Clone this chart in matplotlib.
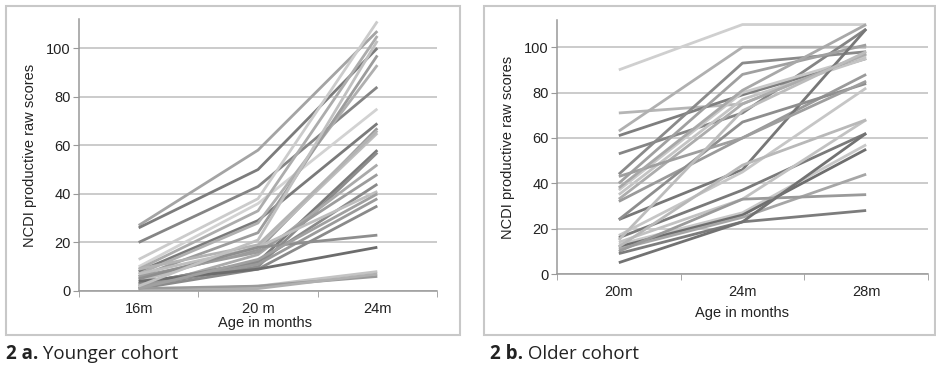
import matplotlib.pyplot as plt
from matplotlib.patches import Rectangle

# younger cohort: scores at 16m, 20m, 24m
young_ages = ['16m', '20 m', '24m']
young_scores = [
    [27, 58, 107], [26, 50, 100], [20, 43, 84], [13, 38, 111], [10, 36, 75],
    [9, 33, 105], [8, 29, 69], [7, 28, 93], [6, 24, 97], [5, 17, 67],
    [4, 18, 65], [9, 19, 66], [3, 12, 58], [2, 10, 57], [1, 15, 52],
    [6, 16, 48], [3, 12, 44], [7, 18, 41], [2, 11, 38], [1, 9, 35],
    [5, 18, 23], [4, 9, 18], [0, 2, 8], [1, 2, 6], [0, 1, 7],
    [1, 13, 40], [2, 21, 103],
]
young_shades = [
    '#a4a4a4', '#7c7c7c', '#858585', '#cbcbcb', '#d2d2d2',
    '#acacac', '#7a7a7a', '#afafaf', '#9c9c9c', '#9a9a9a',
    '#bdbdbd', '#b3b3b3', '#7a7a7a', '#8c8c8c', '#aaaaaa',
    '#9c9c9c', '#8a8a8a', '#bebebe', '#9a9a9a', '#8a8a8a',
    '#8e8e8e', '#6c6c6c', '#c4c4c4', '#9a9a9a', '#b0b0b0',
    '#a0a0a0', '#c0c0c0',
]

# older cohort: scores at 20m, 24m, 28m
old_ages = ['20m', '24m', '28m']
old_scores = [
    [90, 110, 110], [71, 75, 97], [63, 100, 100], [61, 79, 95], [53, 71, 108],
    [44, 93, 98], [40, 88, 101], [37, 80, 96], [35, 77, 95], [33, 75, 97],
    [32, 60, 88], [24, 46, 108], [24, 67, 84], [17, 45, 82], [16, 37, 62],
    [14, 33, 68], [13, 27, 57], [12, 26, 55], [11, 25, 44], [10, 33, 35],
    [9, 23, 28], [5, 23, 62], [43, 60, 85], [38, 81, 110], [15, 72, 98],
    [12, 48, 68],
]
old_shades = [
    '#cfcfcf', '#b5b5b5', '#b0b0b0', '#7e7e7e', '#858585',
    '#8a8a8a', '#a0a0a0', '#c8c8c8', '#c4c4c4', '#acacac',
    '#9a9a9a', '#777777', '#8e8e8e', '#c6c6c6', '#7a7a7a',
    '#c2c2c2', '#c8c8c8', '#6e6e6e', '#a6a6a6', '#9a9a9a',
    '#7c7c7c', '#727272', '#9e9e9e', '#a8a8a8', '#bcbcbc',
    '#b8b8b8',
]

yticks = [0, 20, 40, 60, 80, 100]

plt.rcParams['font.family'] = ['Liberation Sans', 'DejaVu Sans']

W, H = 936, 366
fig = plt.figure(figsize=(W / 100, H / 100), dpi=100)


def px_box(x0, y0, x1, y1):
    return [x0 / W, 1 - y1 / H, (x1 - x0) / W, (y1 - y0) / H]


def draw_panel(ax, ages, scores, shades):
    for row, c in zip(scores, shades):
        ax.plot(range(len(ages)), row, color=c, lw=2.0, solid_capstyle='butt')
    ax.set_xlim(-0.5, len(ages) - 0.5)
    ax.set_ylim(0, 112)
    ax.set_yticks(yticks)
    ax.set_xticks(range(len(ages)))
    ax.set_xticklabels(ages)
    ax.set_xticks([i - 0.5 for i in range(len(ages) + 1)], minor=True)
    ax.tick_params(axis='x', which='major', length=0, pad=8, labelsize=10.5, colors='#222222')
    ax.tick_params(axis='x', which='minor', length=4, color='#999999')
    ax.tick_params(axis='y', length=4, color='#999999', labelsize=10.5, labelcolor='#222222', pad=2)
    ax.grid(axis='y', color='#bdbdbd', lw=1.1)
    ax.set_axisbelow(True)
    for s in ['top', 'right']:
        ax.spines[s].set_visible(False)
    for s in ['left', 'bottom']:
        ax.spines[s].set_color('#999999')
        ax.spines[s].set_linewidth(1.1)
    ax.set_facecolor('none')


ax1 = fig.add_axes(px_box(79, 19, 437, 291))
draw_panel(ax1, young_ages, young_scores, young_shades)
ax2 = fig.add_axes(px_box(557, 20, 928, 274))
draw_panel(ax2, old_ages, old_scores, old_shades)

# outer frames
for x0, x1 in [(6, 460), (484, 935)]:
    fig.patches.append(Rectangle((x0 / W, 1 - 335 / H), (x1 - x0) / W, (335 - 6) / H,
                                 transform=fig.transFigure, fill=False,
                                 edgecolor='#c8c8c8', lw=1.5))

fig.text(30 / W, 1 - 155 / H, 'NCDI productive raw scores', rotation=90,
         ha='center', va='center', fontsize=10.5, color='#222222')
fig.text(508 / W, 1 - 147 / H, 'NCDI productive raw scores', rotation=90,
         ha='center', va='center', fontsize=10.5, color='#222222')
fig.text(265 / W, 1 - 323 / H, 'Age in months', ha='center', va='center',
         fontsize=10.5, color='#222222')
fig.text(742 / W, 1 - 313 / H, 'Age in months', ha='center', va='center',
         fontsize=10.5, color='#222222')

# captions
for x, tag, rest in [(6, '2 a.', ' Younger cohort'), (490, '2 b.', ' Older cohort')]:
    t = fig.text(x / W, 1 - 354 / H, tag, ha='left', va='center', fontsize=13.5,
                 fontweight='bold', family='Open Sans', color='#222222')
    fig.canvas.draw()
    bb = t.get_window_extent()
    fig.text(bb.x1 / W, 1 - 354 / H, rest, ha='left', va='center', fontsize=13.5,
             family='Open Sans', color='#222222')

fig.savefig('out.png', dpi=100)
